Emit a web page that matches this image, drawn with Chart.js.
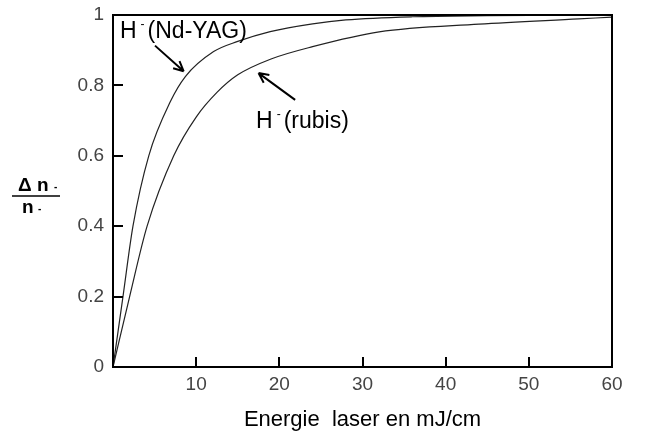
<!DOCTYPE html>
<html>
<head>
<meta charset="utf-8">
<script src="https://cdn.jsdelivr.net/npm/chart.js@4/dist/chart.umd.min.js"></script>
<style>
  html, body { margin: 0; padding: 0; background: #fff; }
  #wrap { width: 645px; height: 437px; }
</style>
</head>
<body>
<div id="wrap"><canvas id="graph" width="645" height="437"></canvas></div>
<script>
// energie laser (mJ/cm) and photodetachment fraction
const ndyagX = [0, 1.2, 2.4, 4.3, 6.9, 8.7, 12.1, 15, 18.9, 24, 28, 36, 45, 60];
const ndyagY = [0, 0.2, 0.4, 0.6, 0.754, 0.825, 0.896, 0.925, 0.953, 0.975, 0.986, 0.995, 0.998, 1.0];

const rubisX = [0, 2.0, 4.1, 7.3, 10, 12.5, 15, 19, 24, 32, 44, 56, 60];
const rubisY = [0, 0.2, 0.4, 0.6, 0.71, 0.78, 0.83, 0.875, 0.91, 0.952, 0.974, 0.989, 0.994];

const xTicks = [0, 10, 20, 30, 40, 50, 60];
const yTicks = [0, 0.2, 0.4, 0.6, 0.8, 1];

const FONT = "'Liberation Sans', Arial, sans-serif";

const toPoints = (xs, ys) => xs.map((x, i) => ({ x: x, y: ys[i] }));

// frame, inward ticks, curve labels with arrows, fraction for the y title
const decor = {
    id: "decor",
    afterDraw(chart) {
        const ctx = chart.ctx;
        const a = chart.chartArea;
        const sx = chart.scales.x;
        const sy = chart.scales.y;
        ctx.save();
        ctx.strokeStyle = "#000";
        ctx.lineWidth = 2;
        ctx.strokeRect(a.left, a.top, a.right - a.left, a.bottom - a.top);

        ctx.beginPath();
        xTicks.slice(1, -1).forEach((v) => {
            const px = Math.round(sx.getPixelForValue(v));
            ctx.moveTo(px, a.bottom);
            ctx.lineTo(px, a.bottom - 10);
        });
        yTicks.slice(1, -1).forEach((v) => {
            const py = Math.round(sy.getPixelForValue(v));
            ctx.moveTo(a.left, py);
            ctx.lineTo(a.left + 10, py);
        });
        ctx.stroke();

        const label = (x, y, tail) => {
            let px = sx.getPixelForValue(x);
            const py = sy.getPixelForValue(y);
            ctx.fillStyle = "#000";
            ctx.textBaseline = "alphabetic";
            ctx.textAlign = "left";
            ctx.font = "23px " + FONT;
            ctx.fillText("H", px, py);
            px += ctx.measureText("H").width + 4;
            ctx.font = "12px " + FONT;
            ctx.fillText("-", px, py - 10);
            px += ctx.measureText("-").width + 3;
            ctx.font = "23px " + FONT;
            ctx.fillText(tail, px, py);
        };
        const arrow = (x0, y0, x1, y1) => {
            const p0 = [sx.getPixelForValue(x0), sy.getPixelForValue(y0)];
            const p1 = [sx.getPixelForValue(x1), sy.getPixelForValue(y1)];
            const ang = Math.atan2(p1[1] - p0[1], p1[0] - p0[0]);
            ctx.lineWidth = 2;
            ctx.beginPath();
            ctx.moveTo(p0[0], p0[1]);
            ctx.lineTo(p1[0], p1[1]);
            [0.45, -0.45].forEach((d) => {
                ctx.moveTo(p1[0], p1[1]);
                ctx.lineTo(p1[0] - 11 * Math.cos(ang + d), p1[1] - 11 * Math.sin(ang + d));
            });
            ctx.stroke();
        };

        label(0.84, 0.935, "(Nd-YAG)");
        arrow(5.05, 0.913, 8.5, 0.84);
        label(17.2, 0.678, "(rubis)");
        arrow(21.9, 0.759, 17.5, 0.835);

        // y title: Δn- / n-
        ctx.font = "bold 19px " + FONT;
        ctx.fillText("\u0394 n", 18, 191);
        ctx.fillText("n", 22, 213);
        ctx.font = "bold 10px " + FONT;
        ctx.fillText("-", 54, 190);
        ctx.fillText("-", 38, 212);
        ctx.lineWidth = 1.5;
        ctx.beginPath();
        ctx.moveTo(12, 196);
        ctx.lineTo(60, 196);
        ctx.stroke();
        ctx.restore();
    },
};

const tickFont = { family: FONT, size: 19 };

new Chart(document.querySelector("#graph"), {
    type: "line",
    data: {
        datasets: [
            {
                label: "H- (Nd-YAG)",
                data: toPoints(ndyagX, ndyagY),
                borderColor: "#222",
                borderWidth: 1.2,
                pointRadius: 0,
                cubicInterpolationMode: "monotone",
            },
            {
                label: "H- (rubis)",
                data: toPoints(rubisX, rubisY),
                borderColor: "#222",
                borderWidth: 1.2,
                pointRadius: 0,
                cubicInterpolationMode: "monotone",
            },
        ],
    },
    options: {
        responsive: false,
        animation: false,
        layout: { padding: { top: 15, right: 33, left: 0, bottom: 0 } },
        plugins: { legend: { display: false }, tooltip: { enabled: false } },
        scales: {
            x: {
                type: "linear",
                min: 0,
                max: 60,
                afterBuildTicks: (s) => { s.ticks = xTicks.map((v) => ({ value: v })); },
                ticks: {
                    color: "#444",
                    font: tickFont,
                    padding: 6,
                    maxRotation: 0,
                    callback: (v) => (v === 0 ? "" : String(v)),
                },
                grid: { display: false, drawTicks: false },
                border: { display: false },
                title: {
                    display: true,
                    text: "Energie  laser en mJ/cm",
                    color: "#000",
                    font: { family: FONT, size: 22 },
                    padding: { top: 10 },
                },
                afterFit: (s) => {
                    s.height = 70;
                    s.paddingLeft = 0;
                    s.paddingRight = 0;
                },
            },
            y: {
                min: 0,
                max: 1,
                afterBuildTicks: (s) => { s.ticks = yTicks.map((v) => ({ value: v })); },
                ticks: { color: "#444", font: tickFont, padding: 9, callback: (v) => String(v) },
                grid: { display: false, drawTicks: false },
                border: { display: false },
                afterFit: (s) => {
                    s.width = 113;
                    s.paddingTop = 0;
                    s.paddingBottom = 0;
                },
            },
        },
    },
    plugins: [decor],
});
</script>
</body>
</html>
